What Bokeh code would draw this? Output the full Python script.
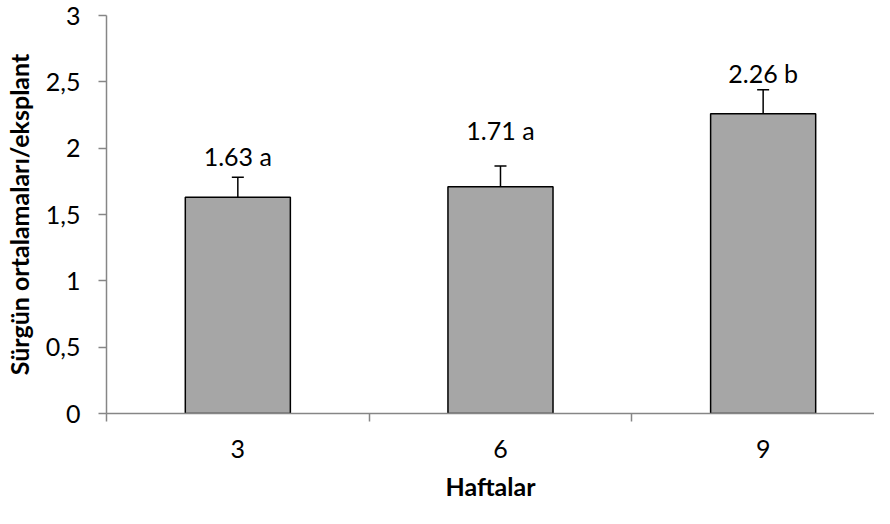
from bokeh.plotting import figure
from bokeh.models import (ColumnDataSource, Range1d, FixedTicker, Whisker, TeeHead)
from bokeh.embed import file_html
from bokeh.resources import INLINE
from bokeh.core.properties import value

# ---- data ----
weeks = ["3", "6", "9"]
means = [1.63, 1.71, 2.26]
errors = [0.15, 0.155, 0.18]
letters = ["a", "a", "b"]
label_y = [1.94, 2.135, 2.57]
y_ticks = [0, 0.5, 1, 1.5, 2, 2.5, 3]
y_tick_labels = ["0", "0,5", "1", "1,5", "2", "2,5", "3"]

xs = [i + 0.5 for i in range(len(weeks))]
src = ColumnDataSource(dict(
    x=xs,
    top=means,
    lower=means,
    upper=[m + e for m, e in zip(means, errors)],
    ly=label_y,
    label=[f"{m:.2f} {l}" for m, l in zip(means, letters)],
))

FONT = "Lato"
AX = "#868686"
LEFT = 105
W = 874

p = figure(width=W, height=508, output_backend="svg", toolbar_location=None,
           x_range=Range1d(0, (W - LEFT) / 263), y_range=Range1d(0, 3),
           min_border_left=LEFT, min_border_right=0, min_border_top=15,
           min_border_bottom=95)
p.outline_line_color = None
p.xgrid.visible = False
p.ygrid.visible = False
p.background_fill_color = "white"

p.vbar(x="x", top="top", width=0.4, source=src, fill_color="#a6a6a6",
       line_color="black", line_width=1.5)

wh = Whisker(source=src, base="x", upper="upper", lower="lower", dimension="height",
             line_color="black", line_width=1.5,
             upper_head=TeeHead(size=12, line_color="black", line_width=1.5),
             lower_head=None)
p.add_layout(wh)

p.text(x="x", y="ly", text="label", source=src, text_align="center",
       text_baseline="middle", text_font=value(FONT), text_font_size="25px",
       text_color="black")

# y axis
ya = p.yaxis[0]
ya.ticker = FixedTicker(ticks=y_ticks)
ya.major_label_overrides = {t: l for t, l in zip(y_ticks, y_tick_labels)}
ya.major_tick_out = 8
ya.major_tick_in = 0
ya.minor_tick_line_color = None
ya.axis_line_color = AX
ya.axis_line_width = 1.5
ya.major_tick_line_color = AX
ya.major_tick_line_width = 1.5
ya.major_label_text_font = FONT
ya.major_label_text_font_size = "25px"
ya.major_label_text_color = "black"
ya.major_label_standoff = 18
ya.axis_label = "Sürgün ortalamaları/eksplant"
ya.axis_label_text_font = FONT
ya.axis_label_text_font_style = "bold"
ya.axis_label_text_font_size = "25px"
ya.axis_label_text_color = "black"
ya.axis_label_standoff = 9

# x axis
xa = p.xaxis[0]
xa.ticker = FixedTicker(ticks=xs, minor_ticks=[0, 1, 2, 3])
xa.major_label_overrides = {x: w for x, w in zip(xs, weeks)}
xa.major_tick_line_color = None
xa.major_tick_out = 0
xa.major_tick_in = 0
xa.minor_tick_out = 8
xa.minor_tick_in = 0
xa.minor_tick_line_color = AX
xa.minor_tick_line_width = 1.5
xa.axis_line_color = AX
xa.axis_line_width = 1.5
xa.major_label_text_font = FONT
xa.major_label_text_font_size = "25px"
xa.major_label_text_color = "black"
xa.major_label_standoff = 18
xa.axis_label = "Haftalar"
xa.axis_label_text_font = FONT
xa.axis_label_text_font_style = "bold"
xa.axis_label_text_font_size = "25px"
xa.axis_label_text_color = "black"
xa.axis_label_standoff = 10

open("out.html", "w").write(file_html(p, INLINE))
